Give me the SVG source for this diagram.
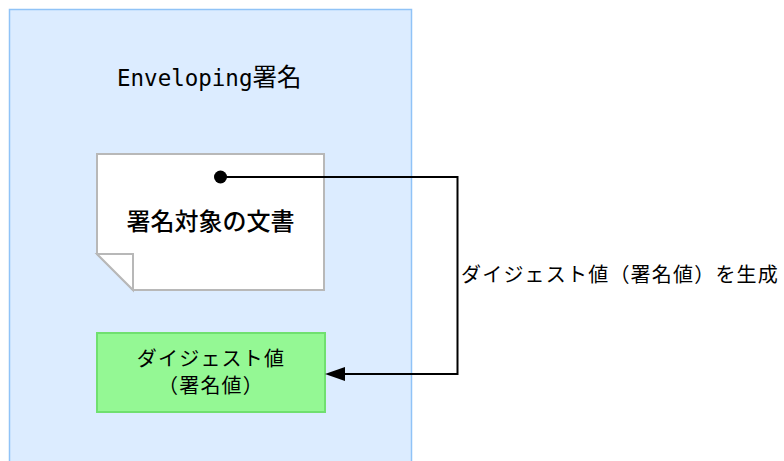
<svg xmlns="http://www.w3.org/2000/svg" width="784" height="461" viewBox="0 0 784 461">
<style>text{font-family:"Noto Sans CJK JP","Noto Sans",sans-serif;fill:#000}.t{font-size:20px;letter-spacing:1.200px}</style>
<g id="container"><path d="M9.500 461V9.500H411.500V461" fill="#dcecff" stroke="#90c3f7" stroke-width="1.500"/><text x="117" y="86" font-size="24.500"><tspan font-size="22.500" style="font-family:'DejaVu Sans Mono','Noto Sans CJK JP',monospace">Enveloping</tspan>署名</text></g>
<g id="doc"><path d="M97 154H324V290H133L97 254Z" fill="#fff" stroke="#b8b8b8" stroke-width="2"/><path d="M97 254H133V290Z" fill="#fff" stroke="#b8b8b8" stroke-width="2"/><text x="210.500" y="230" text-anchor="middle" font-size="24" font-weight="500">署名対象の文書</text></g>
<g id="digest"><rect x="97" y="333" width="228" height="79" fill="#94f894" stroke="#70e070" stroke-width="2"/><text class="t" x="211" y="366" text-anchor="middle">ダイジェスト値</text><text class="t" x="211" y="393" text-anchor="middle">（署名値）</text></g>
<g id="connectors"><circle cx="220.500" cy="177" r="6.500" fill="#000"/><path d="M221 177H457.500V374H344" fill="none" stroke="#000" stroke-width="2"/><path d="M325 374L345 367V381Z" fill="#000"/></g>
<text class="t" x="461" y="282">ダイジェスト値（署名値）を生成</text>
</svg>
